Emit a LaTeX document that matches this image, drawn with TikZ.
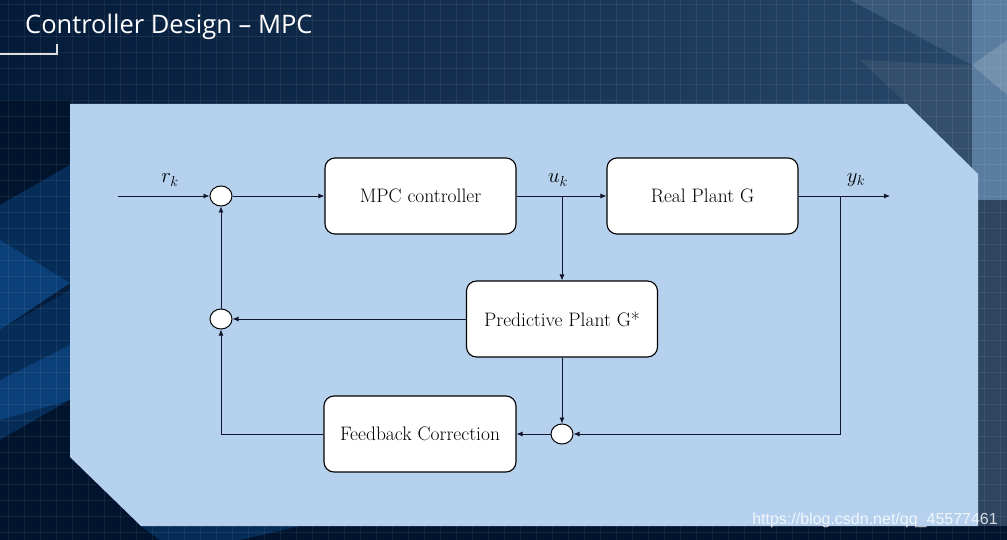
\documentclass[tikz,border=0pt]{standalone}
\usepackage{fontspec}
\newfontfamily\titlefont{Open Sans}
\newfontfamily\wmfont{Liberation Sans}
\usetikzlibrary{arrows.meta,shapes.geometric}
\definecolor{panel}{HTML}{B5D1EE}
\definecolor{bgleft}{HTML}{031A38}
\definecolor{bgright}{HTML}{2A4A6B}
\definecolor{tri1}{HTML}{0A3F78}
\definecolor{tri2}{HTML}{062C58}
\definecolor{tri3}{HTML}{01142E}
\definecolor{steel}{HTML}{5A7C9E}
\definecolor{steeldark}{HTML}{3A5878}
\definecolor{wire}{HTML}{15152F}
\begin{document}
\begin{tikzpicture}[x=1pt,y=-1pt,
  blockbox/.style={draw=black, line width=1.1pt, fill=white, rounded corners=10pt,
    minimum width=191pt, minimum height=76pt, inner sep=0pt,
    font=\rmfamily\fontsize{19.5}{23}\selectfont},
  sumnode/.style={draw=black, line width=1pt, fill=white, ellipse,
    minimum width=22pt, minimum height=20pt, inner sep=0pt},
  sig/.style={line width=0.8pt, draw=wire},
  arr/.style={sig, -{Latex[length=6pt,width=5pt]}},
  lbl/.style={font=\fontsize{21.5}{26}\selectfont, inner sep=0pt}]
\useasboundingbox (0,0) rectangle (1007,540);
% background
\shade[left color=bgleft, right color=bgright] (0,0) rectangle (1007,540);
\fill[tri3] (0,100) -- (70,100) -- (70,165) -- (0,205) -- cycle;
\fill[tri2] (0,205) -- (70,165) -- (70,283) -- (0,240) -- cycle;
\fill[tri1] (0,240) -- (70,283) -- (0,330) -- cycle;
\fill[tri2] (0,330) -- (70,290) -- (70,400) -- (0,440) -- cycle;
\fill[tri1] (0,380) -- (70,345) -- (70,400) -- (0,420) -- cycle;
\fill[tri3] (0,440) -- (70,400) -- (70,457) -- (141,526) -- (0,526) -- cycle;
\fill[tri3] (0,526) rectangle (1007,540);
\fill[tri2] (141,526) -- (300,526) -- (240,540) -- (160,540) -- cycle;
\fill[steeldark] (850,0) -- (972,0) -- (972,65) -- cycle;
\fill[steeldark!90!black] (860,60) -- (972,65) -- (972,174) -- (907,104) -- cycle;
\fill[steel] (972,0) rectangle (1007,200);
\fill[steel!85!white] (972,65) -- (1007,40) -- (1007,95) -- cycle;
\fill[steeldark!80!black] (972,200) rectangle (1007,526);
\foreach \gx in {8,24,...,1007} \draw[white, opacity=0.07, line width=0.6pt] (\gx,0) -- (\gx,540);
\foreach \gy in {4,20,...,540} \draw[white, opacity=0.07, line width=0.6pt] (0,\gy) -- (1007,\gy);
% title
\node[anchor=west, text=white, inner sep=0pt, font=\titlefont\fontsize{25.5}{30}\selectfont] (title) at (25,27) {Controller Design – MPC};
\draw[white!75!gray, line width=1.2pt] (0,54) -- (57,54) -- (57,44);
% panel
\fill[panel] (70,104) -- (907,104) -- (978,174) -- (978,526) -- (141,526) -- (70,457) -- cycle;
% blocks
\node[blockbox] (mpc) at (420.5,196) {MPC controller};
\node[blockbox] (rp) at (702.5,196) {Real Plant G};
\node[blockbox] (pp) at (562,319) {Predictive Plant G*};
\node[blockbox, minimum width=192pt] (fc) at (420,434) {Feedback Correction};
\node[sumnode] (s1) at (221,196) {};
\node[sumnode] (s2) at (221,319) {};
\node[sumnode] (s3) at (562,434) {};
% labels
\node[lbl] (rk) at (170,180) {$r_k$};
\node[lbl] (uk) at (558,180) {$u_k$};
\node[lbl] (yk) at (856,180) {$y_k$};
% connectors
\coordinate (in) at (118,196);
\coordinate (ub) at (562,196);
\coordinate (yb) at (840,196);
\coordinate (yc) at (840,434);
\coordinate (out) at (890,196);
\draw[arr] (in) -- (s1);
\draw[arr] (s1) -- (mpc);
\draw[arr] (mpc) -- (rp);
\draw[arr] (ub) -- (pp.north);
\draw[arr] (rp) -- (out);
\draw[arr] (yb) -- (yc) -- (s3);
\draw[arr] (pp) -- (s2);
\draw[arr] (pp) -- (s3);
\draw[arr] (s3) -- (fc);
\draw[arr] (fc.west) -| (s2.south);
\draw[arr] (s2) -- (s1);
% watermark
\node[anchor=east, text=white, opacity=0.8, inner sep=0pt, font=\wmfont\fontsize{16}{18}\selectfont] (wm) at (998,520) {https://blog.csdn.net/qq\_45577461};
\end{tikzpicture}
\end{document}
